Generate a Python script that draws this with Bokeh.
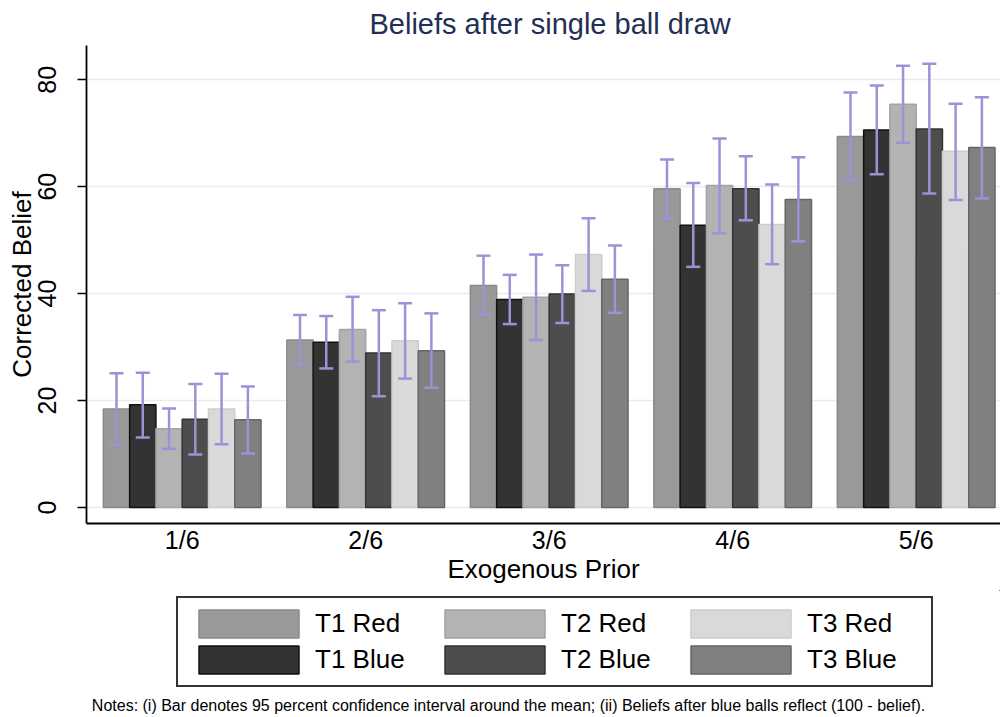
import numpy as np
from bokeh.plotting import figure
from bokeh.layouts import column
from bokeh.models import (ColumnDataSource, Range1d, FixedTicker, Whisker, TeeHead,
                          Legend, LegendItem, Label)
from bokeh.embed import file_html
from bokeh.resources import INLINE

# ---------------- data ----------------
priors = ["1/6", "2/6", "3/6", "4/6", "5/6"]
series = ["T1 Red", "T1 Blue", "T2 Red", "T2 Blue", "T3 Red", "T3 Blue"]

t1_red_mean = [18.4, 31.3, 41.5, 59.6, 69.4]
t1_red_lo = [11.7, 26.7, 36.0, 54.0, 61.2]
t1_red_hi = [25.1, 36.0, 47.1, 65.1, 77.6]

t1_blue_mean = [19.2, 30.9, 38.9, 52.8, 70.6]
t1_blue_lo = [13.1, 26.0, 34.3, 45.0, 62.3]
t1_blue_hi = [25.2, 35.8, 43.5, 60.7, 78.9]

t2_red_mean = [14.7, 33.3, 39.3, 60.2, 75.4]
t2_red_lo = [11.0, 27.3, 31.3, 51.3, 68.2]
t2_red_hi = [18.5, 39.4, 47.3, 69.0, 82.6]

t2_blue_mean = [16.5, 28.9, 39.9, 59.6, 70.8]
t2_blue_lo = [9.9, 20.8, 34.5, 53.7, 58.7]
t2_blue_hi = [23.1, 36.9, 45.3, 65.7, 83.0]

t3_red_mean = [18.4, 31.2, 47.3, 52.9, 66.6]
t3_red_lo = [11.8, 24.1, 40.5, 45.5, 57.5]
t3_red_hi = [25.0, 38.2, 54.1, 60.4, 75.5]

t3_blue_mean = [16.4, 29.3, 42.7, 57.6, 67.3]
t3_blue_lo = [10.1, 22.4, 36.4, 49.8, 57.8]
t3_blue_hi = [22.6, 36.3, 49.0, 65.5, 76.7]

y_ticks = [0, 20, 40, 60, 80]

title_text = "Beliefs after single ball draw"
x_title = "Exogenous Prior"
y_title = "Corrected Belief"
notes_text = ("Notes: (i) Bar denotes 95 percent confidence interval around the mean; "
              "(ii) Beliefs after blue balls reflect (100 - belief).")

# ---------------- styles ----------------
fills = ["#999999", "#333333", "#b3b3b3", "#4d4d4d", "#d9d9d9", "#808080"]
edges = ["#8a8a8a", "#111111", "#a3a3a3", "#333333", "#cdcdcd", "#666666"]
err_color = "#9a93d6"
FONT = "Liberation Sans"

means = [t1_red_mean, t1_blue_mean, t2_red_mean, t2_blue_mean, t3_red_mean, t3_blue_mean]
los = [t1_red_lo, t1_blue_lo, t2_red_lo, t2_blue_lo, t3_red_lo, t3_blue_lo]
his = [t1_red_hi, t1_blue_hi, t2_red_hi, t2_blue_hi, t3_red_hi, t3_blue_hi]

bar_w = 0.1432
centers = np.arange(len(priors)) + 0.5

W = 1000
H1 = 590
H2 = 127

p = figure(width=W, height=H1, output_backend="svg", toolbar_location=None,
           x_range=Range1d(-0.0215, 4.9595), y_range=Range1d(-3.0, 86.4),
           min_border_left=86, min_border_right=0, min_border_top=44,
           min_border_bottom=H1 - 523,
           background_fill_color="white", border_fill_color="white")
p.outline_line_color = None

sources = []
for i, name in enumerate(series):
    xs = centers + (i - 2.5) * bar_w
    src = ColumnDataSource(dict(x=xs, top=means[i], lo=los[i], hi=his[i]))
    sources.append(src)
    p.vbar(x="x", top="top", bottom=0, width=bar_w, source=src,
           fill_color=fills[i], line_color=edges[i], line_width=1.5)

for src in sources:
    w = Whisker(base="x", upper="hi", lower="lo", source=src, dimension="height",
                line_color=err_color, line_width=2.5, level="annotation",
                upper_head=TeeHead(size=14, line_color=err_color, line_width=2.5),
                lower_head=TeeHead(size=14, line_color=err_color, line_width=2.5))
    p.add_layout(w)

# title
p.title.text = title_text
p.title.align = "left"
p.title.offset = 283
p.title.text_font = FONT
p.title.text_font_size = "29px"
p.title.text_font_style = "normal"
p.title.text_color = "#1f2f55"
p.title.standoff = 11

# axes
p.xaxis.ticker = FixedTicker(ticks=list(centers))
p.xaxis.major_label_overrides = {float(c): lab for c, lab in zip(centers, priors)}
p.xaxis.major_tick_line_color = None
p.xaxis.minor_tick_line_color = None
p.xaxis.major_tick_out = 0
p.xaxis.major_tick_in = 0
p.xaxis.major_label_standoff = 2
p.xaxis.axis_label = x_title
p.xaxis.axis_label_standoff = -3

p.yaxis.ticker = FixedTicker(ticks=y_ticks)
p.yaxis.major_label_orientation = "vertical"
p.yaxis.minor_tick_line_color = None
p.yaxis.major_tick_in = 0
p.yaxis.major_tick_out = 9
p.yaxis.major_label_standoff = 21
p.yaxis.axis_label = y_title
p.yaxis.axis_label_standoff = -1

for ax in (p.xaxis[0], p.yaxis[0]):
    ax.axis_line_color = "black"
    ax.axis_line_width = 1.8
    ax.major_tick_line_width = 1.6
    ax.major_label_text_font = FONT
    ax.major_label_text_font_size = "25px"
    ax.major_label_text_color = "black"
    ax.axis_label_text_font = FONT
    ax.axis_label_text_font_size = "26px"
    ax.axis_label_text_font_style = "normal"
    ax.axis_label_text_color = "black"

p.xgrid.visible = False
p.ygrid.ticker = FixedTicker(ticks=y_ticks)
p.ygrid.grid_line_color = "#e4edf0"
p.ygrid.grid_line_width = 1.5

# ---------------- legend + notes strip ----------------
p2 = figure(width=W, height=H2, output_backend="svg", toolbar_location=None,
            x_range=Range1d(-100, -99), y_range=Range1d(-100, -99),
            x_axis_type=None, y_axis_type=None,
            min_border_left=0, min_border_right=0, min_border_top=0, min_border_bottom=0,
            background_fill_color="white", border_fill_color="white")
p2.outline_line_color = None
p2.xgrid.visible = False
p2.ygrid.visible = False

leg_renderers = []
for i, src in enumerate(sources):
    r = p2.vbar(x="x", top="top", bottom=0, width=bar_w, source=src,
                fill_color=fills[i], line_color=edges[i], line_width=1.5)
    leg_renderers.append(r)

items = [LegendItem(label=name, renderers=[r]) for name, r in zip(series, leg_renderers)]
legend = Legend(items=items, orientation="vertical", nrows=2,
                glyph_width=125, glyph_height=35, label_standoff=4, label_width=116,
                spacing=1, padding=8, margin=0,
                label_text_font=FONT, label_text_font_size="26px",
                label_text_color="black",
                border_line_color="#333333", border_line_width=2, border_line_alpha=1.0,
                background_fill_color="white", background_fill_alpha=1.0,
                location=(90, 30))
p2.add_layout(legend)

notes = Label(x=422, y=12, x_units="screen", y_units="screen", text=notes_text,
              text_align="center", text_baseline="middle",
              text_font=FONT, text_font_size="16px", text_color="black")
p2.add_layout(notes)

layout = column(p, p2, spacing=0)
open("out.html", "w").write(file_html(layout, INLINE))
